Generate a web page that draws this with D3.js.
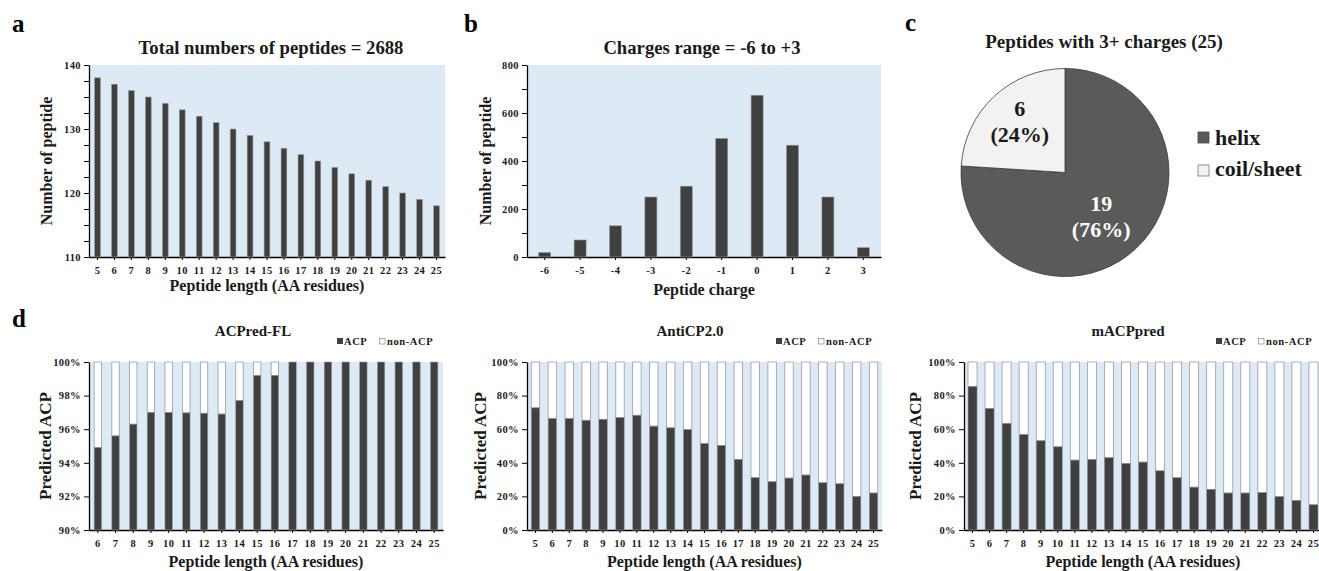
<!DOCTYPE html>
<html>
<head>
<meta charset="utf-8">
<script src="https://cdn.jsdelivr.net/npm/d3@7"></script>
<style>
body { margin: 0; background: #fff; }
svg text { font-family: "Liberation Serif", "Times New Roman", serif; font-weight: bold; fill: #1a1a1a; }
</style>
</head>
<body>
<div id="root"></div>
<script>
// ---- data ----
const lengths = [5, 6, 7, 8, 9, 10, 11, 12, 13, 14, 15, 16, 17, 18, 19, 20, 21, 22, 23, 24, 25];
const peptideCounts = [138, 137, 136, 135, 134, 133, 132, 131, 130, 129, 128, 127, 126, 125, 124, 123, 122, 121, 120, 119, 118];

const charges = [-6, -5, -4, -3, -2, -1, 0, 1, 2, 3];
const chargeCounts = [19, 71, 130, 250, 295, 494, 674, 466, 250, 39];

const structureLabels = ["helix", "coil/sheet"];
const structureCounts = [19, 6];

const acpredLengths = [6, 7, 8, 9, 10, 11, 12, 13, 14, 15, 16, 17, 18, 19, 20, 21, 22, 23, 24, 25];
const acpredACP = [0.949, 0.956, 0.963, 0.970, 0.970, 0.9697, 0.9695, 0.969, 0.977, 0.992, 0.992, 1, 1, 1, 1, 1, 1, 1, 1, 1];

const anticpACP = [0.727, 0.663, 0.663, 0.653, 0.659, 0.669, 0.683, 0.618, 0.608, 0.598, 0.515, 0.503, 0.420, 0.311, 0.287, 0.309, 0.327, 0.281, 0.275, 0.200, 0.220];

const macpACP = [0.855, 0.723, 0.634, 0.568, 0.531, 0.495, 0.416, 0.420, 0.430, 0.396, 0.404, 0.352, 0.311, 0.255, 0.242, 0.220, 0.220, 0.222, 0.198, 0.176, 0.150];

// ---- styling ----
const W = 1319, H = 571;
const bgBlue = "#ddeaf6";
const barDark = "#404040";
const barEdge = "#9a9a9a";

const svg = d3.select("#root").append("svg")
	.attr("width", W)
	.attr("height", H);

const panelLetter = (x, y, t) => {
	svg.append("text").attr("x", x).attr("y", y)
		.style("font-size", "25px").style("fill", "#000").text(t);
};

const styleAxis = (g) => {
	g.select(".domain").attr("stroke", "#000").attr("stroke-width", 1.3);
	g.selectAll(".tick line").attr("stroke", "#000").attr("stroke-width", 1);
	g.selectAll(".tick text")
		.style("font-size", "10.5px")
		.style("font-family", "'Liberation Serif', serif")
		.style("font-weight", "bold")
		.style("letter-spacing", "0.4px")
		.attr("fill", "#222");
};

const drawFrame = (box, x, y, yTicks, yFormat, xLabel, yLabel, yLabelX) => {
	svg.append("rect")
		.attr("x", box.l).attr("y", box.t)
		.attr("width", box.r - box.l).attr("height", box.b - box.t)
		.attr("fill", bgBlue);

	const yAxis = svg.append("g")
		.attr("transform", `translate(${box.l},0)`)
		.call(d3.axisLeft(y).tickValues(yTicks).tickSize(5).tickSizeOuter(0).tickFormat(yFormat));
	styleAxis(yAxis);
	yAxis.selectAll(".tick text").attr("x", -8);

	const xAxis = svg.append("g")
		.attr("transform", `translate(0,${box.b})`)
		.call(d3.axisBottom(x).tickSize(3).tickSizeOuter(0).tickFormat(d => String(d)));
	styleAxis(xAxis);
	xAxis.selectAll(".tick text").attr("y", 10);

	svg.append("text")
		.attr("x", (box.l + box.r) / 2).attr("y", box.labelY)
		.attr("text-anchor", "middle")
		.style("font-size", "16px")
		.text(xLabel);

	svg.append("text")
		.attr("transform", `translate(${yLabelX},${(box.t + box.b) / 2}) rotate(-90)`)
		.attr("text-anchor", "middle")
		.style("font-size", box.yLabelSize)
		.text(yLabel);
};

// ---- a / b : simple bar charts ----
const drawBarPanel = (cfg) => {
	const box = cfg.box;
	const x = d3.scaleBand().domain(cfg.cats).range([box.l, box.r])
		.paddingInner(cfg.pad).paddingOuter(cfg.pad / 2);
	const y = d3.scaleLinear().domain(cfg.domain).range([box.b, box.t]);

	drawFrame(box, x, y, cfg.yTicks, cfg.yFormat, cfg.xLabel, "Number of peptide", cfg.yLabelX);

	svg.append("g").selectAll("rect")
		.data(cfg.values)
		.join("rect")
			.attr("x", (d, i) => x(cfg.cats[i]))
			.attr("y", d => y(d))
			.attr("width", x.bandwidth())
			.attr("height", d => box.b - y(d))
			.attr("fill", barDark)
			.attr("stroke", barEdge)
			.attr("stroke-width", 0.6);

	svg.append("text")
		.attr("x", cfg.titleX).attr("y", 54)
		.attr("text-anchor", "middle")
		.style("font-size", "18.7px")
		.text(cfg.title);
};

drawBarPanel({
	cats: lengths, values: peptideCounts,
	box: { l: 89, r: 445, t: 65, b: 257, labelY: 291, yLabelSize: "16px" },
	pad: 0.66, domain: [110, 140],
	yTicks: d3.range(110, 140.01, 2.5),
	yFormat: d => (d % 10 === 0 ? d : ""),
	xLabel: "Peptide length (AA residues)",
	yLabelX: 52,
	title: "Total numbers of peptides = 2688", titleX: 271
});

drawBarPanel({
	cats: charges, values: chargeCounts,
	box: { l: 527, r: 881, t: 65, b: 257, labelY: 295, yLabelSize: "16px" },
	pad: 0.66, domain: [0, 800],
	yTicks: d3.range(0, 801, 100),
	yFormat: d => (d % 200 === 0 ? d : ""),
	xLabel: "Peptide charge",
	yLabelX: 491,
	title: "Charges range = -6 to +3", titleX: 702
});

// ---- c : pie ----
const pieCx = 1065, pieCy = 172.5, pieR = 104;
const pieColors = ["#5a5a5a", "#f2f2f2"];
const pie = d3.pie().sort(null)(structureCounts);
const arc = d3.arc().innerRadius(0).outerRadius(pieR);
const labelArc = d3.arc().innerRadius(66).outerRadius(66);
const total = d3.sum(structureCounts);

const pieG = svg.append("g").attr("transform", `translate(${pieCx},${pieCy})`);
pieG.selectAll("path")
	.data(pie)
	.join("path")
		.attr("d", arc)
		.attr("fill", (d, i) => pieColors[i])
		.attr("stroke", "#3a3a3a")
		.attr("stroke-width", 0.8);

pieG.selectAll("text.lbl")
	.data(pie)
	.join("text")
		.attr("class", "lbl")
		.attr("text-anchor", "middle")
		.attr("transform", (d, i) => {
			const c = labelArc.centroid(d);
			// Excel nudges the big-slice label towards the bottom
			return i === 0 ? `translate(${c[0] - 9},${c[1] - 1})` : `translate(${c})`;
		})
		.style("font-size", "22px")
		.style("fill", (d, i) => (i === 0 ? "#fff" : "#1a1a1a"))
		.each(function (d) {
			const t = d3.select(this);
			t.append("tspan").attr("x", 0).attr("y", -8.5).text(d.data);
			t.append("tspan").attr("x", 0).attr("y", 17.5).text(`(${Math.round(d.data / total * 100)}%)`);
		});

svg.append("text")
	.attr("x", 1104).attr("y", 48)
	.attr("text-anchor", "middle")
	.style("font-size", "19px")
	.text("Peptides with 3+ charges (25)");

const pieLegend = svg.append("g");
structureLabels.forEach((lab, i) => {
	pieLegend.append("rect")
		.attr("x", 1198).attr("y", 132 + i * 33)
		.attr("width", 11).attr("height", 11)
		.attr("fill", pieColors[i])
		.attr("stroke", i === 0 ? "#4a4a4a" : "#777")
		.attr("stroke-width", 0.8);
	pieLegend.append("text")
		.attr("x", 1215).attr("y", 145 + i * 31)
		.style("font-size", "22px")
		.text(lab);
});

// ---- d : stacked percentage bars ----
const drawStackPanel = (cfg) => {
	const box = cfg.box;
	const x = d3.scaleBand().domain(cfg.cats).range([box.l, box.r])
		.paddingInner(cfg.pad).paddingOuter(cfg.pad / 2);
	const y = d3.scaleLinear().domain(cfg.domain).range([box.b, box.t]);

	drawFrame(box, x, y, cfg.yTicks, d3.format(".0%"), "Peptide length (AA residues)", "Predicted ACP", cfg.yLabelX);

	const g = svg.append("g");
	g.selectAll("rect.non")
		.data(cfg.values)
		.join("rect")
			.attr("class", "non")
			.attr("x", (d, i) => x(cfg.cats[i]))
			.attr("y", y(1))
			.attr("width", x.bandwidth())
			.attr("height", d => y(d) - y(1))
			.attr("fill", "#fff")
			.attr("stroke", barEdge)
			.attr("stroke-width", 0.8);
	g.selectAll("rect.acp")
		.data(cfg.values)
		.join("rect")
			.attr("class", "acp")
			.attr("x", (d, i) => x(cfg.cats[i]))
			.attr("y", d => y(d))
			.attr("width", x.bandwidth())
			.attr("height", d => box.b - y(d))
			.attr("fill", barDark)
			.attr("stroke", barEdge)
			.attr("stroke-width", 0.6);

	svg.append("text")
		.attr("x", cfg.titleX).attr("y", 336)
		.attr("text-anchor", "middle")
		.style("font-size", "15px")
		.text(cfg.title);

	// legend
	const lg = svg.append("g").attr("transform", `translate(${box.r},0)`);
	lg.append("rect").attr("x", -106).attr("y", 338).attr("width", 6).attr("height", 6).attr("fill", barDark);
	lg.append("text").attr("x", -99).attr("y", 345).style("font-size", "10.5px").style("letter-spacing", "0.6px").text("ACP");
	lg.append("rect").attr("x", -63.5).attr("y", 338.5).attr("width", 5.5).attr("height", 5.5)
		.attr("fill", "#fff").attr("stroke", "#777").attr("stroke-width", 0.6);
	lg.append("text").attr("x", -56).attr("y", 345).style("font-size", "10.5px").style("letter-spacing", "0.6px").text("non-ACP");
};

drawStackPanel({
	cats: acpredLengths, values: acpredACP,
	box: { l: 89, r: 443, t: 362, b: 530, labelY: 567, yLabelSize: "17px" },
	pad: 0.58, domain: [0.9, 1],
	yTicks: [0.90, 0.92, 0.94, 0.96, 0.98, 1.00],
	yLabelX: 51,
	title: "ACPred-FL", titleX: 253
});

drawStackPanel({
	cats: lengths, values: anticpACP,
	box: { l: 527, r: 882, t: 362, b: 530, labelY: 567, yLabelSize: "17px" },
	pad: 0.5, domain: [0, 1],
	yTicks: [0, 0.2, 0.4, 0.6, 0.8, 1],
	yLabelX: 486,
	title: "AntiCP2.0", titleX: 690
});

drawStackPanel({
	cats: lengths, values: macpACP,
	box: { l: 964, r: 1322, t: 362, b: 530, labelY: 567, yLabelSize: "17px" },
	pad: 0.47, domain: [0, 1],
	yTicks: [0, 0.2, 0.4, 0.6, 0.8, 1],
	yLabelX: 921,
	title: "mACPpred", titleX: 1128
});

panelLetter(12, 32, "a");
panelLetter(464, 32, "b");
panelLetter(905, 31, "c");
panelLetter(12, 327, "d");
</script>
</body>
</html>
